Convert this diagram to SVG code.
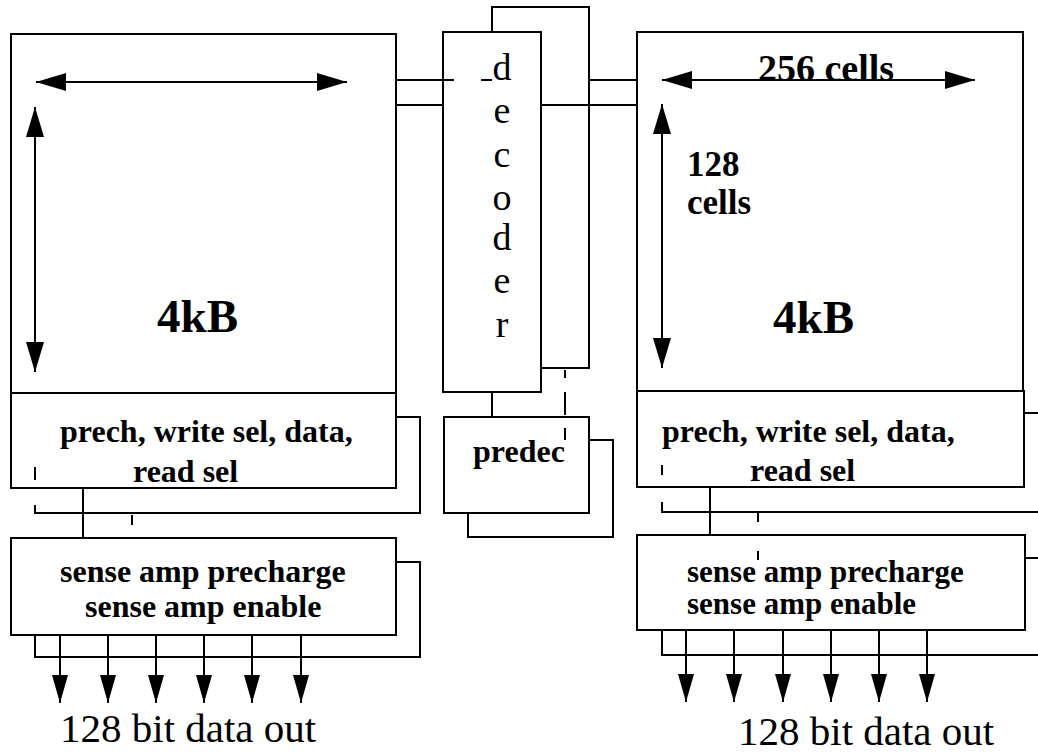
<svg xmlns="http://www.w3.org/2000/svg" width="1038" height="752" viewBox="0 0 1038 752">
<style>
.box{fill:#fff;stroke:#000;stroke-width:2}
.ln{fill:none;stroke:#000;stroke-width:2}
.bt{font-family:"Liberation Serif","Times New Roman",serif;font-weight:bold;fill:#000}
.rt{font-family:"Liberation Serif","Times New Roman",serif;fill:#000}
</style>
<defs>
<marker id="dim" markerUnits="userSpaceOnUse" markerWidth="30" markerHeight="18" refX="30" refY="9" orient="auto-start-reverse">
<path d="M0,0 L30,9 L0,18 z" fill="#000"/>
</marker>
<marker id="out" markerUnits="userSpaceOnUse" markerWidth="28" markerHeight="16" refX="28" refY="8" orient="auto">
<path d="M0,0 L28,8 L0,16 z" fill="#000"/>
</marker>
</defs>
<rect width="1038" height="752" fill="#fff"/>

<g id="connectors">
<path class="ln" d="M396,417 H420 V513 H35 V505"/>
<path class="ln" d="M35,467 V480"/>
<path class="ln" d="M396,562 H420 V657 H35 V635"/>
<path class="ln" d="M83,488 V538"/>
<path class="ln" d="M132,515 V525 M132,553 V563"/>
<path class="ln" d="M60,635 V703" marker-end="url(#out)"/>
<path class="ln" d="M108,635 V703" marker-end="url(#out)"/>
<path class="ln" d="M156,635 V703" marker-end="url(#out)"/>
<path class="ln" d="M204,635 V703" marker-end="url(#out)"/>
<path class="ln" d="M252,635 V703" marker-end="url(#out)"/>
<path class="ln" d="M301,635 V703" marker-end="url(#out)"/>
<path class="ln" d="M492,32 V7 H589 V368 H541"/>
<path class="ln" d="M396,80 H454 M481,80 H492"/>
<path class="ln" d="M396,105 H443"/>
<path class="ln" d="M589,80 H637"/>
<path class="ln" d="M541,105 H637"/>
<path class="ln" d="M492,392 V417"/>
<path class="ln" d="M565,370 V378 M565,392 V415 M565,428 V440"/>
<path class="ln" d="M589,440 H613 V537 H468 V513"/>
<path class="ln" d="M1024,413 H1038"/>
<path class="ln" d="M662,465 V475 M662,502 V512 H1038"/>
<path class="ln" d="M710,487 V535"/>
<path class="ln" d="M758,513 V522 M758,551 V560"/>
<path class="ln" d="M1025,558 H1038"/>
<path class="ln" d="M662,630 V655 H1038"/>
<path class="ln" d="M686,630 V702" marker-end="url(#out)"/>
<path class="ln" d="M734,630 V702" marker-end="url(#out)"/>
<path class="ln" d="M783,630 V702" marker-end="url(#out)"/>
<path class="ln" d="M831,630 V702" marker-end="url(#out)"/>
<path class="ln" d="M879,630 V702" marker-end="url(#out)"/>
<path class="ln" d="M927,630 V702" marker-end="url(#out)"/>
</g>

<g id="left-array">
<rect class="box" x="11" y="34" width="385" height="359"/>
<path class="ln" d="M36,82 H347" marker-start="url(#dim)" marker-end="url(#dim)"/>
<path class="ln" d="M35,107 V372" marker-start="url(#dim)" marker-end="url(#dim)"/>
<text class="bt" x="157" y="332" font-size="47">4kB</text>
</g>

<g id="left-prech">
<rect class="box" x="11" y="393" width="385" height="95" style="fill:none"/>
<text class="bt" x="60" y="442" font-size="32">prech, write sel, data,</text>
<text class="bt" x="133" y="482" font-size="32">read sel</text>
</g>

<g id="left-sense">
<rect class="box" x="11" y="538" width="385" height="97"/>
<text class="bt" x="60" y="582" font-size="32">sense amp precharge</text>
<text class="bt" x="85" y="617" font-size="32">sense amp enable</text>
</g>

<g id="decoder">
<rect class="box" x="443" y="32" width="98" height="360" style="fill:none"/>
<g class="rt" font-size="38" text-anchor="middle">
<text x="502" y="80">d</text>
<text x="502" y="123">e</text>
<text x="502" y="167">c</text>
<text x="502" y="210">o</text>
<text x="502" y="250">d</text>
<text x="502" y="293">e</text>
<text x="502" y="337">r</text>
</g>
</g>

<g id="predec">
<rect class="box" x="444" y="417" width="145" height="96" style="fill:none"/>
<text class="bt" x="473" y="462" font-size="32">predec</text>
</g>

<g id="right-array">
<rect class="box" x="637" y="32" width="386" height="359"/>
<text class="bt" x="758" y="81" font-size="38">256 cells</text>
<path class="ln" d="M662,80 H975" marker-start="url(#dim)" marker-end="url(#dim)"/>
<path class="ln" d="M662,104 V368" marker-start="url(#dim)" marker-end="url(#dim)"/>
<text class="bt" x="687" y="176" font-size="35">128</text>
<text class="bt" x="687" y="214" font-size="35">cells</text>
<text class="bt" x="773" y="333" font-size="47">4kB</text>
</g>

<g id="right-prech">
<rect class="box" x="637" y="391" width="387" height="96" style="fill:none"/>
<text class="bt" x="662" y="442" font-size="32">prech, write sel, data,</text>
<text class="bt" x="750" y="481" font-size="32">read sel</text>
</g>

<g id="right-sense">
<rect class="box" x="637" y="535" width="388" height="95" style="fill:none"/>
<text class="bt" x="687" y="582" font-size="31">sense amp precharge</text>
<text class="bt" x="687" y="614" font-size="31">sense amp enable</text>
</g>

<g id="labels">
<text class="rt" x="60" y="742" font-size="41">128 bit data out</text>
<text class="rt" x="738" y="745" font-size="41">128 bit data out</text>
</g>
</svg>
